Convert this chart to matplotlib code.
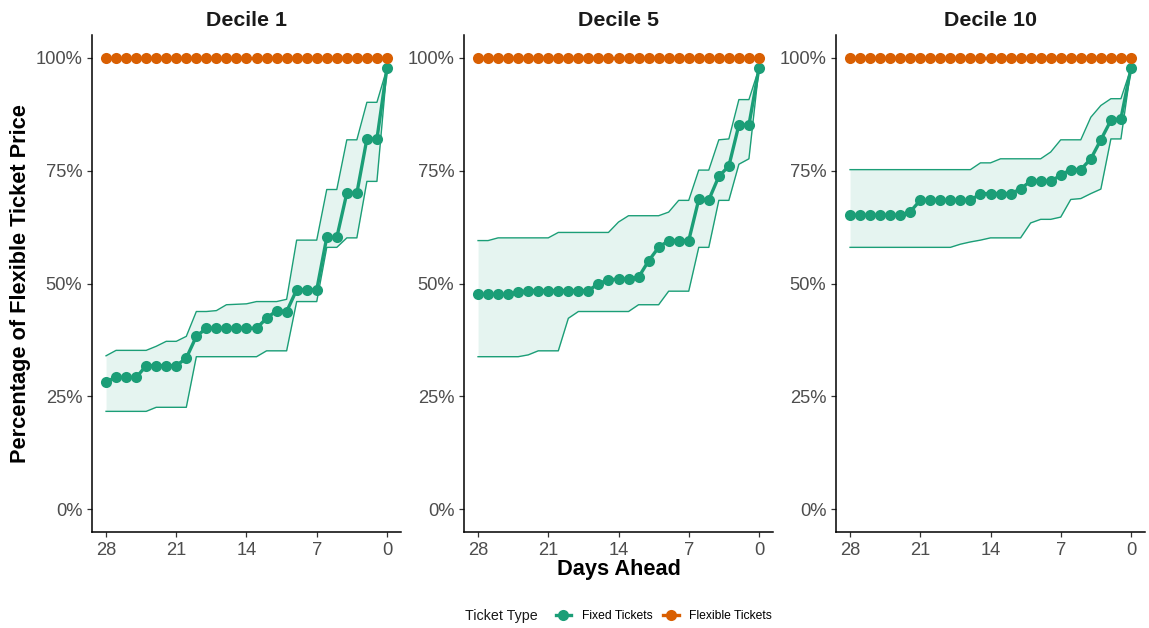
import matplotlib
matplotlib.use('Agg')
import matplotlib.pyplot as plt
from matplotlib.lines import Line2D
from matplotlib.ticker import FuncFormatter

plt.rcParams['font.family'] = ['Liberation Sans', 'DejaVu Sans']

GREEN = '#1B9E77'
ORANGE = '#D95F02'

days = [28, 27, 26, 25, 24, 23, 22, 21, 20, 19, 18, 17, 16, 15, 14,
        13, 12, 11, 10, 9, 8, 7, 6, 5, 4, 3, 2, 1, 0]

panel_titles = ['Decile 1', 'Decile 5', 'Decile 10']

flexible_pct = [100, 100, 100, 100, 100, 100, 100, 100, 100, 100, 100, 100, 100, 100, 100,
                100, 100, 100, 100, 100, 100, 100, 100, 100, 100, 100, 100, 100, 100]

# decile 1
d1_fixed = [28.3, 29.2, 29.2, 29.2, 31.8, 31.8, 31.8, 31.8, 33.5, 38.3, 40.1, 40.1, 40.1, 40.1, 40.1,
            40.1, 42.3, 44.0, 43.8, 48.6, 48.6, 48.6, 60.2, 60.2, 70.0, 70.0, 82.0, 82.0, 97.6]
d1_upper = [34.0, 35.2, 35.2, 35.2, 35.2, 36.1, 37.2, 37.2, 38.3, 43.8, 43.8, 44.0, 45.3, 45.4, 45.5,
            46.0, 46.0, 46.0, 46.5, 59.6, 59.6, 59.6, 70.8, 70.8, 81.8, 81.8, 90.1, 90.1, 97.6]
d1_lower = [21.7, 21.7, 21.7, 21.7, 21.7, 22.6, 22.6, 22.6, 22.6, 33.8, 33.8, 33.8, 33.8, 33.8, 33.8,
            33.8, 35.1, 35.1, 35.1, 46.0, 46.0, 46.0, 58.0, 58.0, 60.1, 60.1, 72.6, 72.6, 97.6]

# decile 5
d5_fixed = [47.6, 47.6, 47.6, 47.6, 48.1, 48.4, 48.4, 48.4, 48.4, 48.4, 48.4, 48.4, 50.0, 50.8, 51.0,
            51.0, 51.4, 55.0, 58.0, 59.5, 59.5, 59.5, 68.6, 68.5, 73.7, 76.0, 85.1, 85.1, 97.6]
d5_upper = [59.5, 59.5, 60.1, 60.1, 60.1, 60.1, 60.1, 60.1, 61.3, 61.3, 61.3, 61.3, 61.3, 61.3, 63.6,
            65.0, 65.0, 65.0, 65.0, 65.8, 68.4, 68.4, 75.1, 75.1, 81.8, 82.0, 90.7, 90.7, 97.6]
d5_lower = [33.8, 33.8, 33.8, 33.8, 33.8, 34.2, 35.1, 35.1, 35.1, 42.3, 43.8, 43.8, 43.8, 43.8, 43.8,
            43.8, 45.3, 45.3, 45.3, 48.3, 48.3, 48.3, 58.0, 58.0, 68.4, 68.4, 76.4, 77.6, 97.6]

# decile 10
d10_fixed = [65.1, 65.1, 65.1, 65.1, 65.1, 65.1, 65.9, 68.4, 68.4, 68.4, 68.4, 68.4, 68.4, 69.9, 69.9,
             69.9, 69.9, 70.9, 72.7, 72.7, 72.6, 74.0, 75.2, 75.2, 77.6, 81.8, 86.1, 86.5, 97.6]
d10_upper = [75.2, 75.2, 75.2, 75.2, 75.2, 75.2, 75.2, 75.2, 75.2, 75.2, 75.2, 75.2, 75.2, 76.7, 76.7,
             77.6, 77.6, 77.6, 77.6, 77.6, 79.1, 81.8, 81.8, 81.8, 86.8, 89.4, 90.9, 90.9, 97.6]
d10_lower = [58.0, 58.0, 58.0, 58.0, 58.0, 58.0, 58.0, 58.0, 58.0, 58.0, 58.0, 58.7, 59.2, 59.6, 60.1,
             60.1, 60.1, 60.1, 63.4, 64.2, 64.2, 64.7, 68.6, 68.8, 69.9, 70.9, 82.0, 82.0, 97.6]

fixed_all = [d1_fixed, d5_fixed, d10_fixed]
upper_all = [d1_upper, d5_upper, d10_upper]
lower_all = [d1_lower, d5_lower, d10_lower]

W, H = 1149, 628
fig = plt.figure(figsize=(W / 100, H / 100), dpi=100)

lefts = [92, 464, 836]
ax_w, ax_top, ax_bot = 309, 35, 532
MS = 8.0

for i in range(3):
    ax = fig.add_axes([lefts[i] / W, 1 - ax_bot / H, ax_w / W, (ax_bot - ax_top) / H])
    ax.fill_between(days, lower_all[i], upper_all[i], color=GREEN, alpha=0.11, linewidth=0)
    ax.plot(days, upper_all[i], color=GREEN, lw=1.0)
    ax.plot(days, lower_all[i], color=GREEN, lw=1.0)
    ax.plot(days, fixed_all[i], color=GREEN, lw=2.4, marker='o', ms=MS, mew=0)
    ax.plot(days, flexible_pct, color=ORANGE, lw=2.4, marker='o', ms=MS, mew=0)

    ax.set_xlim(29.4, -1.4)
    ax.set_ylim(-5, 105)
    ax.set_xticks([28, 21, 14, 7, 0])
    ax.set_yticks([0, 25, 50, 75, 100])
    ax.yaxis.set_major_formatter(FuncFormatter(lambda v, p: f'{v:.0f}%'))
    ax.tick_params(labelsize=13.2, labelcolor='#4D4D4D', color='#333333', length=3.5, width=0.9)
    for s in ['top', 'right']:
        ax.spines[s].set_visible(False)
    for s in ['left', 'bottom']:
        ax.spines[s].set_linewidth(1.1)
    ax.set_title(panel_titles[i], fontsize=15.4, fontweight='bold', pad=6.5, color='#1a1a1a')

fig.text(21 / W, 1 - 283.5 / H, 'Percentage of Flexible Ticket Price', rotation=90,
         ha='center', va='center', fontsize=15.7, fontweight='bold')
fig.text(619 / W, 1 - 570 / H, 'Days Ahead', ha='center', va='center',
         fontsize=15.7, fontweight='bold')

fig.text(465 / W, 1 - 616 / H, 'Ticket Type', ha='left', va='center', fontsize=10.3, color='#1a1a1a')
handles = [Line2D([], [], color=GREEN, lw=2.4, marker='o', ms=MS, mew=0),
           Line2D([], [], color=ORANGE, lw=2.4, marker='o', ms=MS, mew=0)]
fig.legend(handles, ['Fixed Tickets', 'Flexible Tickets'], ncol=2, frameon=False,
           loc='center left', bbox_to_anchor=(545 / W, 1 - 616 / H), fontsize=8.7,
           handlelength=1.25, handletextpad=0.9, columnspacing=0.9)

fig.savefig('out.png', dpi=100)
